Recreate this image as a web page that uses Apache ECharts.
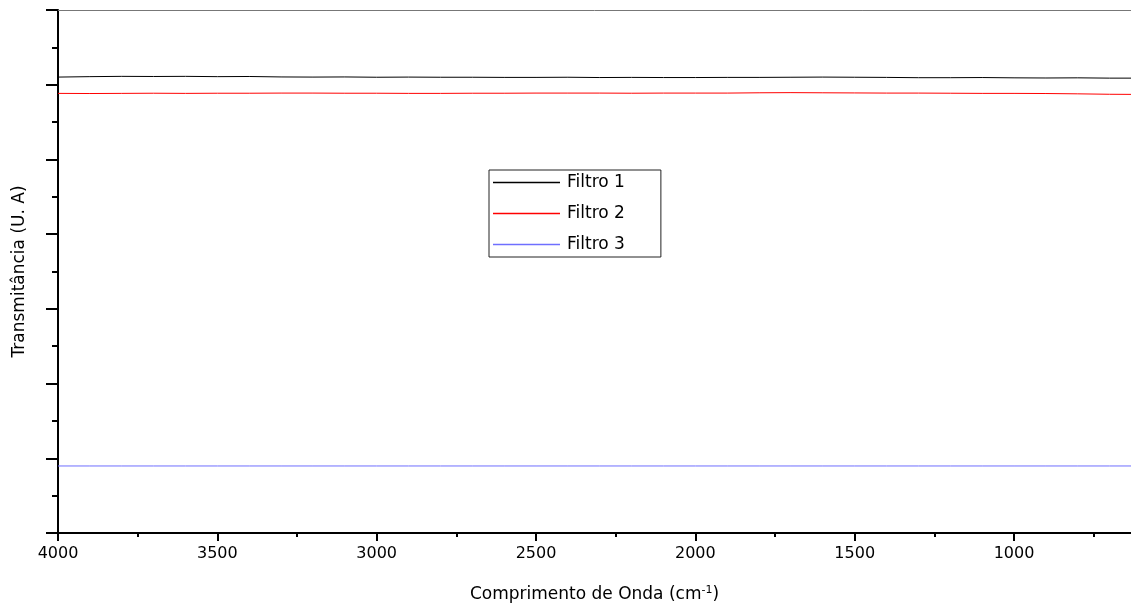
<!DOCTYPE html>
<html>
<head>
<meta charset="utf-8">
<script src="https://cdn.jsdelivr.net/npm/echarts@6/dist/echarts.min.js"></script>
<style>html,body{margin:0;padding:0;background:#fff}#c{width:1131px;height:612px}</style>
</head>
<body>
<div id="c"></div>
<script>
const wavenumbers = [4000,3900,3800,3700,3600,3500,3400,3300,3200,3100,3000,2900,2800,2700,2600,2500,2400,2300,2200,2100,2000,1900,1800,1700,1600,1500,1400,1300,1200,1100,1000,900,800,700,600];
const filtro1 = [6.102,6.108,6.112,6.110,6.112,6.108,6.110,6.104,6.102,6.104,6.100,6.102,6.100,6.100,6.098,6.098,6.100,6.096,6.098,6.096,6.096,6.098,6.098,6.100,6.102,6.100,6.098,6.094,6.094,6.096,6.092,6.090,6.092,6.088,6.088];
const filtro2 = [5.884,5.882,5.884,5.886,5.884,5.886,5.886,5.888,5.888,5.886,5.886,5.884,5.884,5.886,5.886,5.888,5.888,5.888,5.886,5.888,5.888,5.888,5.892,5.894,5.892,5.890,5.888,5.888,5.886,5.884,5.884,5.882,5.878,5.872,5.870];
const filtro3 = [0.897,0.897,0.897,0.897,0.897,0.897,0.897,0.897,0.897,0.897,0.897,0.897,0.897,0.897,0.897,0.897,0.897,0.897,0.897,0.897,0.897,0.897,0.897,0.897,0.897,0.897,0.897,0.897,0.897,0.897,0.897,0.897,0.897,0.897,0.897];
const xMajorTicks = [4000,3500,3000,2500,2000,1500,1000];
const xMinorTicks = [3750,3250,2750,2250,1750,1250,750];
const seriesNames = ['Filtro 1','Filtro 2','Filtro 3'];
const seriesColors = ['#000000','#ff0000','#6f6fff'];
const xTitle = 'Comprimento de Onda (cm{sup|-1})';
const yTitle = 'Transmitância (U. A)';

const pair = arr => wavenumbers.map((w,i)=>[w,arr[i]]);
const font = 'DejaVu Sans';
const xMin = 633, xMax = 4000;
const chart = echarts.init(document.getElementById('c'));
chart.setOption({
  animation:false,
  backgroundColor:'#fff',
  grid:{left:58,top:10,bottom:79,right:0,containLabel:false},
  legend:{
    orient:'vertical', left:489, top:170,
    data:seriesNames,
    icon:'rect',
    itemWidth:67, itemHeight:1.5, itemGap:14,
    borderColor:'#222', borderWidth:1, padding:[4,36,4,4],
    textStyle:{color:'#000',fontSize:17,fontFamily:font,padding:[0,0,0,2]}
  },
  xAxis:[{
    type:'value', inverse:true, min:xMin, max:xMax,
    name:xTitle, nameLocation:'middle', nameGap:52,
    nameTextStyle:{color:'#000',fontSize:17,fontFamily:font,
      rich:{sup:{fontSize:11,verticalAlign:'top',padding:[0,0,8,0],fontFamily:font,color:'#000'}}},
    axisLine:{show:true,lineStyle:{color:'#000',width:2}},
    axisTick:{show:true,inside:false,length:8,customValues:xMajorTicks,lineStyle:{color:'#000',width:2}},
    axisLabel:{color:'#000',fontSize:16,fontFamily:font,margin:13,customValues:xMajorTicks,formatter:v=>String(v)},
    splitLine:{show:false}
  },{
    type:'value', inverse:true, min:xMin, max:xMax, position:'bottom',
    axisLine:{show:false},
    axisTick:{show:true,inside:false,length:4,customValues:xMinorTicks,lineStyle:{color:'#000',width:2}},
    axisLabel:{show:false}, splitLine:{show:false}
  },{
    type:'value', inverse:true, min:xMin, max:xMax, position:'top',
    axisLine:{show:true,lineStyle:{color:'#777',width:1}},
    axisTick:{show:false}, axisLabel:{show:false}, splitLine:{show:false}
  }],
  yAxis:{
    type:'value', min:0, max:7, interval:1,
    name:yTitle, nameLocation:'middle', nameGap:30,
    nameTextStyle:{color:'#000',fontSize:17,fontFamily:font},
    axisLine:{show:true,lineStyle:{color:'#000',width:2}},
    axisTick:{show:true,length:12,lineStyle:{color:'#000',width:2}},
    minorTick:{show:true,splitNumber:2,length:6,lineStyle:{color:'#000',width:2}},
    axisLabel:{show:false},
    splitLine:{show:false}
  },
  series:[filtro1,filtro2,filtro3].map((arr,i)=>({
    name:seriesNames[i], type:'line', data:pair(arr), symbol:'none',
    lineStyle:{color:seriesColors[i],width:1}, itemStyle:{color:seriesColors[i]},
    clip:true
  }))
});
</script>
</body>
</html>
